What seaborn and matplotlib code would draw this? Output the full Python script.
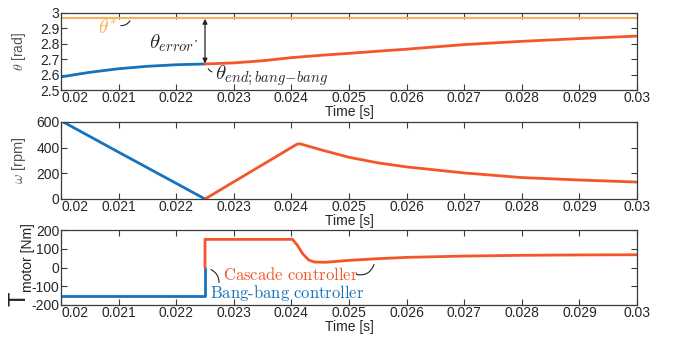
import numpy as np
import pandas as pd
import matplotlib
matplotlib.use('Agg')
import matplotlib.pyplot as plt
import seaborn as sns

# theta [rad]
theta_ref = 2.97
theta_bb_t = [0.02, 0.0205, 0.021, 0.0215, 0.022, 0.0225]
theta_bb = [2.585, 2.615, 2.638, 2.654, 2.664, 2.669]
theta_cc_t = [0.0225, 0.023, 0.0235, 0.024, 0.0245, 0.025, 0.0255, 0.026, 0.027, 0.028, 0.029, 0.03]
theta_cc = [2.669, 2.676, 2.69, 2.71, 2.725, 2.738, 2.752, 2.765, 2.795, 2.816, 2.834, 2.85]

# omega [rpm]
omega_bb_t = [0.02, 0.021, 0.022, 0.0225]
omega_bb = [610, 365, 122, 0]
omega_cc_t = [0.0225, 0.0241, 0.02415, 0.0245, 0.025, 0.0255, 0.026, 0.027, 0.028, 0.029, 0.03]
omega_cc = [0, 428, 430, 385, 325, 282, 250, 203, 167, 148, 132]

# motor torque [Nm]
torque_bb_t = [0.02, 0.0225, 0.0225]
torque_bb = [-150, -150, 0]
torque_cc_t = [0.0225, 0.0225, 0.02402, 0.0241, 0.0242, 0.0243, 0.0244, 0.0246, 0.025, 0.0255,
               0.026, 0.027, 0.028, 0.029, 0.03]
torque_cc = [0, 150, 150, 120, 72, 40, 29, 28, 38, 47, 54, 61, 65, 67, 68]

xticks = [0.02, 0.021, 0.022, 0.023, 0.024, 0.025, 0.026, 0.027, 0.028, 0.029, 0.03]
xticklabels = ['0.02', '0.021', '0.022', '0.023', '0.024', '0.025', '0.026', '0.027', '0.028', '0.029', '0.03']

BLUE = '#1572bd'
RED = '#f4562a'
LIGHT = '#f8b25a'
FRAME = '#3a3a3a'

sns.set_style('ticks')
plt.rcParams['font.family'] = ['Liberation Sans', 'DejaVu Sans']
plt.rcParams['mathtext.fontset'] = 'cm'
plt.rcParams['axes.unicode_minus'] = False

fig = plt.figure(figsize=(6.75, 3.37), dpi=100)
left, width = 61 / 675, 576 / 675
ax1 = fig.add_axes([left, 1 - 90 / 337, width, 77 / 337])
ax2 = fig.add_axes([left, 1 - 199 / 337, width, 77 / 337])
ax3 = fig.add_axes([left, 1 - 305 / 337, width, 75 / 337])


def draw(ax, t, y, color, lw=2.0):
    df = pd.DataFrame({'t': t, 'y': y})
    sns.lineplot(data=df, x='t', y='y', ax=ax, color=color, lw=lw,
                 estimator=None, sort=False, legend=False)


draw(ax1, [0.02, 0.03], [theta_ref, theta_ref], LIGHT, lw=1.5)
draw(ax1, theta_bb_t, theta_bb, BLUE)
draw(ax1, theta_cc_t, theta_cc, RED)

draw(ax2, omega_bb_t, omega_bb, BLUE)
draw(ax2, omega_cc_t, omega_cc, RED)

draw(ax3, torque_bb_t, torque_bb, BLUE)
draw(ax3, torque_cc_t, torque_cc, RED)

limits = [(ax1, (2.5, 3.0), np.arange(2.5, 3.01, 0.1), ['2.5', '2.6', '2.7', '2.8', '2.9', '3']),
          (ax2, (0, 600), [0, 200, 400, 600], ['0', '200', '400', '600']),
          (ax3, (-200, 200), [-200, -100, 0, 100, 200], ['-200', '-100', '0', '100', '200'])]

for ax, ylim, yt, ytl in limits:
    ax.set_xlim(0.02, 0.03)
    ax.set_ylim(*ylim)
    ax.set_xticks(xticks)
    ax.set_xticklabels(xticklabels)
    ax.set_yticks(yt)
    ax.set_yticklabels(ytl)
    ax.tick_params(direction='in', top=True, right=True, length=4, width=0.8,
                   color=FRAME, labelsize=10, pad=1)
    for s in ax.spines.values():
        s.set_visible(True)
        s.set_color(FRAME)
        s.set_linewidth(0.9)
    ax.set_xlabel('Time [s]', fontsize=10, labelpad=0)
    ax.get_xticklabels()[0].set_ha('left')

ax1.set_ylabel(r'$\theta$ [rad]', fontsize=10, color='#555555')
ax1.yaxis.set_label_coords(-0.058, 0.5)
ax2.set_ylabel(r'$\omega$ [rpm]', fontsize=10.5, color='#555555')
ax2.yaxis.set_label_coords(-0.058, 0.5)
ax3.set_ylabel('')

# T_motor label in two parts
fig.text(20 / 675, 1 - 299 / 337, 'T', rotation=90, ha='center', va='center', fontsize=17, color='#222222')
fig.text(28 / 675, 1 - 292 / 337, 'motor [Nm]', rotation=90, ha='center', va='bottom', fontsize=10, color='#222222')

# annotations on theta panel
ax1.text(0.02081, 2.905, r'$\theta^{*}$', color=LIGHT, fontsize=14, ha='center', va='center')
ax1.annotate('', xy=(0.02122, 2.965), xytext=(0.02099, 2.92),
             arrowprops=dict(arrowstyle='-', color='#222222', lw=0.8, connectionstyle='arc3,rad=0.4'))
ax1.text(0.02192, 2.805, r'$\theta_{error}$', fontsize=15, ha='center', va='center')
ax1.annotate('', xy=(0.0224, 2.82), xytext=(0.02232, 2.80),
             arrowprops=dict(arrowstyle='-', color='#222222', lw=0.8, connectionstyle='arc3,rad=-0.6'))
ax1.annotate('', xy=(0.0225, 2.962), xytext=(0.0225, 2.672),
             arrowprops=dict(arrowstyle='<|-|>', color='#222222', lw=0.9, mutation_scale=7,
                             shrinkA=0, shrinkB=0))
ax1.text(0.02267, 2.595, r'$\theta_{end;bang\!-\!bang}$', fontsize=15, ha='left', va='center')
ax1.annotate('', xy=(0.02254, 2.655), xytext=(0.02267, 2.615),
             arrowprops=dict(arrowstyle='-', color='#222222', lw=0.8, connectionstyle='arc3,rad=-0.4'))

# annotations on torque panel
ax3.text(0.02399, -37, r'$\mathrm{Cascade\ controller}$', color=RED, fontsize=12, ha='center', va='center')
ax3.annotate('', xy=(0.02545, 30), xytext=(0.02508, -34),
             arrowprops=dict(arrowstyle='-', color='#222222', lw=0.8, connectionstyle='arc3,rad=0.5'))
ax3.text(0.02393, -135, r'$\mathrm{Bang\text{-}bang\ controller}$', color=BLUE, fontsize=12, ha='center', va='center')
ax3.annotate('', xy=(0.02256, -5), xytext=(0.02274, -95),
             arrowprops=dict(arrowstyle='-', color='#222222', lw=0.8, connectionstyle='arc3,rad=0.4'))

fig.savefig('out.png', dpi=100, facecolor='white')
